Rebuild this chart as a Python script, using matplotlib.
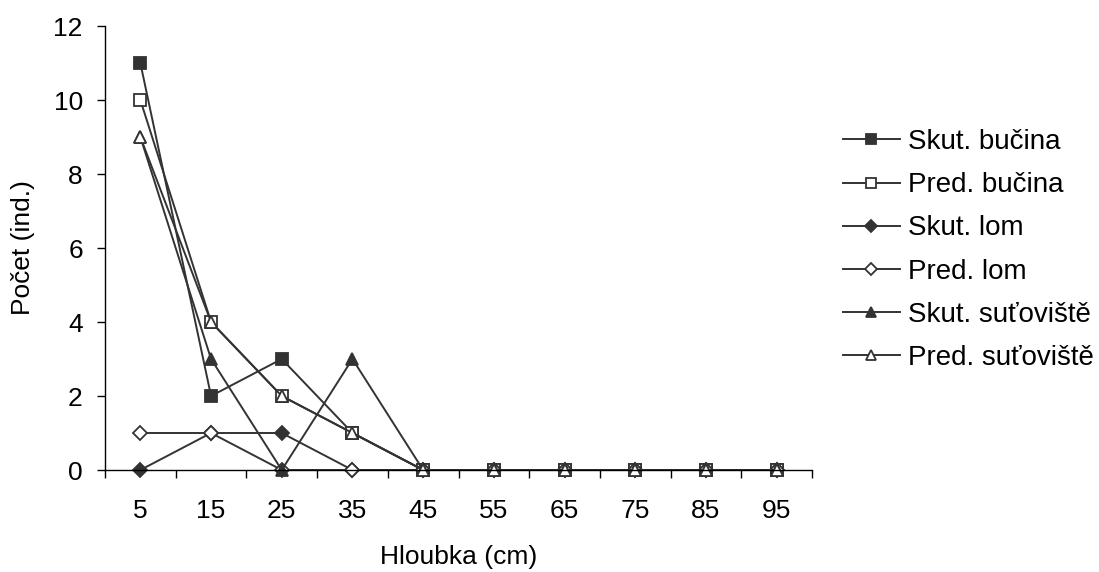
import matplotlib.pyplot as plt

plt.rcParams['font.family'] = ['Liberation Sans', 'DejaVu Sans']

hloubka = [5, 15, 25, 35, 45, 55, 65, 75, 85, 95]

skut_bucina = [11, 2, 3, 1, 0, 0, 0, 0, 0, 0]
pred_bucina = [10, 4, 2, 1, 0, 0, 0, 0, 0, 0]
skut_lom = [0, 1, 1, 0, 0, 0, 0, 0, 0, 0]
pred_lom = [1, 1, 0, 0, 0, 0, 0, 0, 0, 0]
skut_sut = [9, 3, 0, 3, 0, 0, 0, 0, 0, 0]
pred_sut = [9, 4, 2, 1, 0, 0, 0, 0, 0, 0]

series = [
    ("Skut. bučina", skut_bucina, 's', '#333333'),
    ("Pred. bučina", pred_bucina, 's', 'white'),
    ("Skut. lom", skut_lom, 'D', '#333333'),
    ("Pred. lom", pred_lom, 'D', 'white'),
    ("Skut. suťoviště", skut_sut, '^', '#333333'),
    ("Pred. suťoviště", pred_sut, '^', 'white'),
]

fig = plt.figure(figsize=(10.99, 5.72), dpi=100)
ax = fig.add_axes([105 / 1099, 1 - 470 / 572, (812 - 105) / 1099, (470 - 26) / 572])

x = list(range(len(hloubka)))
for name, vals, mk, fc in series:
    ms = 7.5 if mk == 'D' else 9
    ax.plot(x, vals, marker=mk, color='#333333', markerfacecolor=fc,
            markeredgecolor='#333333', markeredgewidth=1.3, markersize=ms,
            linewidth=1.4, label=name, clip_on=False)

ax.set_xlim(-0.5, len(hloubka) - 0.5)
ax.set_ylim(0, 12)
ax.set_yticks(range(0, 13, 2))
# category axis: tick marks between categories, labels at the centres
ax.set_xticks([i - 0.5 for i in range(len(hloubka) + 1)])
ax.set_xticklabels([])
ax.set_xticks(x, minor=True)
ax.set_xticklabels([str(h) for h in hloubka], minor=True)
ax.tick_params(axis='x', which='major', length=6, width=1, direction='out')
ax.tick_params(axis='x', which='minor', length=0, pad=21, labelsize=19)
ax.tick_params(axis='y', length=6, width=1, direction='out', labelsize=19, pad=10)

for s in ['top', 'right']:
    ax.spines[s].set_visible(False)
for s in ['left', 'bottom']:
    ax.spines[s].set_linewidth(1)

ax.set_xlabel("Hloubka (cm)", fontsize=19, labelpad=16)
ax.set_ylabel("Počet (ind.)", fontsize=19, labelpad=13)

ax.legend(loc='upper left', bbox_to_anchor=(843 / 1099, 1 - 129 / 572),
          bbox_transform=fig.transFigure, frameon=False, fontsize=20,
          markerscale=0.85, handlelength=2.05, handletextpad=0.3,
          labelspacing=0.62, borderpad=0, borderaxespad=0)

fig.savefig("out.png", dpi=100)
